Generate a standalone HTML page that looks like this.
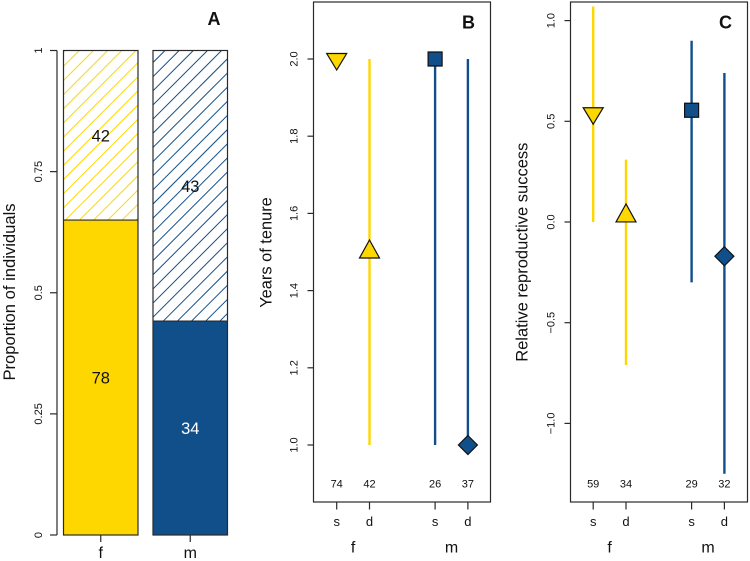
<!DOCTYPE html>
<html>
<head>
<meta charset="utf-8">
<style>
html,body{margin:0;padding:0;background:#fff;overflow:hidden;}
svg{display:block;}
text{font-family:"Liberation Sans",Arial,sans-serif;fill:#111;}
</style>
</head>
<body>
<svg id="chart" width="750" height="561" viewBox="0 0 750 561" xmlns="http://www.w3.org/2000/svg"></svg>
<script>
// Panel A data
const barCategories = ['f', 'm'];
const solidCounts = [78, 34];
const hatchedCounts = [42, 43];
const barTicks = [0, 0.25, 0.5, 0.75, 1];
const barTickLabels = ['0', '0.25', '0.5', '0.75', '1'];

// Panel B data
const groupLabels = ['f', 'm'];
const typeLabels = ['s', 'd', 's', 'd'];
const tenureMeans = [2.0, 1.5, 2.0, 1.0];
const tenureLow = [2.0, 1.0, 1.0, 1.0];
const tenureHigh = [2.0, 2.0, 2.0, 2.0];
const tenureCounts = [74, 42, 26, 37];
const tenureTicks = [1.0, 1.2, 1.4, 1.6, 1.8, 2.0];
const tenureTickLabels = ['1.0', '1.2', '1.4', '1.6', '1.8', '2.0'];

// Panel C data
const successMeans = [0.54, 0.03, 0.555, -0.17];
const successLow = [0.0, -0.71, -0.30, -1.25];
const successHigh = [1.07, 0.31, 0.90, 0.74];
const successCounts = [59, 34, 29, 32];
const successTicks = [-1.0, -0.5, 0.0, 0.5, 1.0];
const successTickLabels = ['\u22121.0', '\u22120.5', '0.0', '0.5', '1.0'];

const GOLD = '#FFD700', BLUE = '#114F8B', INK = '#2a2a2a';
const svg = document.getElementById('chart');
const NS = 'http://www.w3.org/2000/svg';

function make(tag, attrs, name, parent) {
  const el = document.createElementNS(NS, tag);
  for (const k in attrs) el.setAttribute(k, attrs[k]);
  
  
  (parent || svg).appendChild(el);
  return el;
}
function label(x, y, str, size, name, opts) {
  opts = opts || {};
  const attrs = {x: x, y: y, 'font-size': size, 'text-anchor': 'middle'};
  if (opts.rot) attrs.transform = 'rotate(-90 ' + x + ' ' + y + ')';
  if (opts.bold) attrs['font-weight'] = 'bold';
  if (opts.fill) attrs.style = 'fill:' + opts.fill;
  const t = make('text', attrs, name);
  t.textContent = str;
  return t;
}
function seg(x1, y1, x2, y2, color, w, name, parent) {
  return make('line', {x1: x1, y1: y1, x2: x2, y2: y2, stroke: color, 'stroke-width': w}, name, parent);
}

/* ---------- Panel A ---------- */
const yA = v => 535 - v * 484.5;
const barLeft = [63.5, 153];
const barWidth = 74.5;
const barColors = [GOLD, BLUE];
const hatchPhase = [129.8, 215.5];
const hatchStep = 14.15;
const defs = make('defs', {}, 'clip-definitions');

barCategories.forEach((cat, i) => {
  const total = solidCounts[i] + hatchedCounts[i];
  const share = solidCounts[i] / total;
  const x = barLeft[i], yS = yA(share), yT = yA(1), yB = yA(0);
  const clipId = 'hatch-clip-' + cat;
  const clip = make('clipPath', {id: clipId}, 'hatch-clip', defs);
  make('rect', {x: x, y: yT, width: barWidth, height: yS - yT}, 'hatch-clip-rect', clip);

  make('rect', {x: x, y: yS, width: barWidth, height: yB - yS, fill: barColors[i]}, 'bar-solid-' + cat);
  make('rect', {x: x, y: yT, width: barWidth, height: yS - yT, fill: '#fff'}, 'bar-hatched-' + cat);
  const g = make('g', {'clip-path': 'url(#' + clipId + ')'}, 'hatch-lines-' + cat);
  const cMin = x + yT, cMax = x + barWidth + yS;
  const first = hatchPhase[i] + Math.ceil((cMin - hatchPhase[i]) / hatchStep) * hatchStep;
  for (let c = first; c <= cMax; c += hatchStep) {
    seg(c - yS, yS, c - yT, yT, barColors[i], 1, 'hatch-line', g);
  }
  make('rect', {x: x, y: yT, width: barWidth, height: yB - yT, fill: 'none', stroke: INK, 'stroke-width': 1.2}, 'bar-outline-' + cat);
  seg(x, yS, x + barWidth, yS, INK, 1.2, 'bar-divider-' + cat);

  const cx = x + barWidth / 2;
  label(cx, (yT + yS) / 2 + 6, hatchedCounts[i], 16.5, 'count-hatched-' + cat);
  label(cx, (yS + yB) / 2 + 6, solidCounts[i], 16.5, 'count-solid-' + cat, {fill: i === 1 ? '#fff' : '#111'});
  seg(cx, yB, cx, yB + 7, INK, 1.2, 'x-tick-' + cat);
  label(cx, 558, cat, 16, 'x-label-' + cat);
});
seg(57, yA(1), 57, yA(0), INK, 1.2, 'y-axis-a');
barTicks.forEach((v, i) => {
  seg(50, yA(v), 57, yA(v), INK, 1.2, 'y-tick-a');
  label(42, yA(v), barTickLabels[i], 11, 'y-tick-label-a', {rot: true});
});
label(15, 292, 'Proportion of individuals', 16.6, 'y-axis-title-a', {rot: true});
label(214, 25, 'A', 18, 'panel-label-a', {bold: true});

/* ---------- Panels B and C ---------- */
const seriesColors = [GOLD, GOLD, BLUE, BLUE];
const offsets = [0, 32.8, 98.4, 131.2];

function marker(i, x, y, name) {
  const st = {fill: seriesColors[i], stroke: '#111', 'stroke-width': 1.2};
  const shape = (i === 0) ? [[x - 10, y - 5.5], [x + 10, y - 5.5], [x, y + 11]]
    : (i === 1) ? [[x, y - 12], [x + 10, y + 6], [x - 10, y + 6]]
    : (i === 3) ? [[x, y - 9.5], [x + 9.5, y], [x, y + 9.5], [x - 9.5, y]]
    : [[x - 7, y - 7], [x + 7, y - 7], [x + 7, y + 7], [x - 7, y + 7]];
  st.points = shape.map(p => p.join(',')).join(' ');
  make('polygon', st, name);
}

function panel(cfg) {
  const L = cfg.left, R = cfg.left + 177, T = 2, B = 502;
  const px = i => cfg.firstX + offsets[i];
  make('rect', {x: L, y: T, width: R - L, height: B - T, fill: 'none', stroke: INK, 'stroke-width': 1.2}, 'plot-box-' + cfg.id);
  cfg.means.forEach((m, i) => {
    const x = px(i);
    seg(x, cfg.y(cfg.high[i]), x, cfg.y(cfg.low[i]), seriesColors[i], 2.4, 'range-line-' + cfg.id + '-' + i);
  });
  cfg.means.forEach((m, i) => {
    const x = px(i);
    marker(i, x, cfg.y(m), 'mean-marker-' + cfg.id + '-' + i);
    label(x, 487.5, cfg.counts[i], 11, 'sample-size-' + cfg.id + '-' + i);
    seg(x, B, x, B + 7.5, INK, 1.2, 'x-tick-' + cfg.id + '-' + i);
    label(x, 526, typeLabels[i], 13, 'x-tick-label-' + cfg.id + '-' + i);
  });
  label((px(0) + px(1)) / 2, 552.5, groupLabels[0], 16, 'group-label-' + cfg.id + '-f');
  label((px(2) + px(3)) / 2, 552.5, groupLabels[1], 16, 'group-label-' + cfg.id + '-m');
  cfg.ticks.forEach((v, i) => {
    seg(L - 6, cfg.y(v), L, cfg.y(v), INK, 1.2, 'y-tick-' + cfg.id);
    label(L - 16, cfg.y(v), cfg.tickLabels[i], 11, 'y-tick-label-' + cfg.id, {rot: true});
  });
  label(cfg.titleX, cfg.titleY, cfg.title, cfg.titleSize, 'y-axis-title-' + cfg.id, {rot: true});
  label(R - 22, 28.5, cfg.id.toUpperCase(), 18, 'panel-label-' + cfg.id, {bold: true});
}

panel({
  id: 'b', left: 313.5, firstX: 336.7, titleX: 271.7, titleY: 252.5, titleSize: 16.4, title: 'Years of tenure',
  y: v => 445 - (v - 1) * 386,
  means: tenureMeans, low: tenureLow, high: tenureHigh, counts: tenureCounts,
  ticks: tenureTicks, tickLabels: tenureTickLabels
});
panel({
  id: 'c', left: 570.5, firstX: 593.2, titleX: 527.7, titleY: 252.2, titleSize: 16.5, title: 'Relative reproductive success',
  y: v => 222 - v * 201.4,
  means: successMeans, low: successLow, high: successHigh, counts: successCounts,
  ticks: successTicks, tickLabels: successTickLabels
});
</script>
</body>
</html>
